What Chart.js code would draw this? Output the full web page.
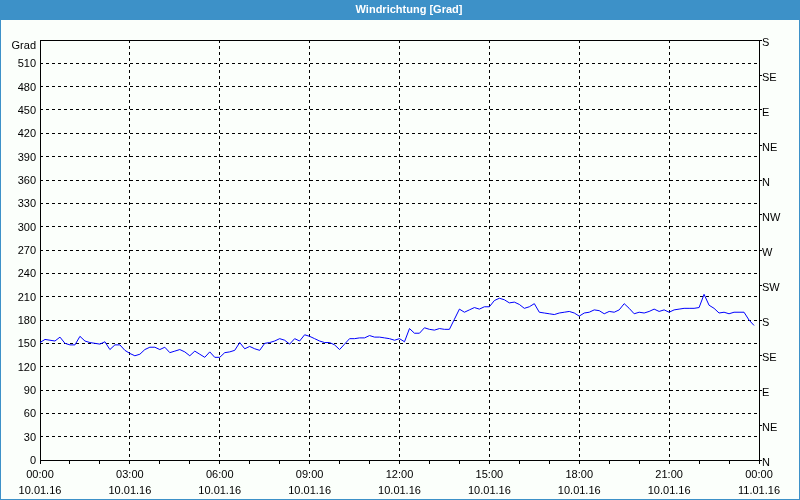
<!DOCTYPE html>
<html>
<head>
<meta charset="utf-8">
<script src="https://cdn.jsdelivr.net/npm/chart.js@4/dist/chart.umd.min.js"></script>
<style>
html,body{margin:0;padding:0;background:#fbfffb;}
#wrap{width:800px;height:500px;}
</style>
</head>
<body>
<div id="wrap"><canvas id="c" width="800" height="500"></canvas></div>
<script>
// ---- data ----
const chartTitle = "Windrichtung [Grad]";
const unitLabel = "Grad";
const dateLabel = "10.01.16";
const nextDateLabel = "11.01.16";
const intervalMinutes = 10;
const windDirection = [
  151,155,154,153,158,150,148,148,159,153,
  151,150,149,152,142,148,148,141,137,134,
  136,142,145,145,142,145,138,140,142,139,
  134,140,136,132,139,132,132,138,139,141,
  151,143,146,143,141,150,151,153,156,154,
  149,156,153,161,159,156,153,151,151,148,
  142,149,156,156,157,157,160,158,158,157,
  156,154,156,152,169,163,163,170,168,167,
  169,168,168,181,194,190,193,196,194,197,
  197,205,208,206,202,203,200,195,197,201,
  190,189,188,187,189,190,191,189,185,189,
  190,193,192,188,191,190,193,201,195,188,
  190,189,191,194,191,193,190,193,194,195,
  195,195,196,213,199,195,189,190,188,190,
  190,190,180,173
];
const leftTicks = [0,30,60,90,120,150,180,210,240,270,300,330,360,390,420,450,480,510];
const compassLabels = ["N","NE","E","SE","S","SW","W","NW","N","NE","E","SE","S"];

const points = windDirection.map((v, i) => ({x: i * intervalMinutes, y: v}));

const FONT = "'Liberation Sans', Arial, sans-serif";

const framePlugin = {
  id: 'frame',
  beforeDraw(chart) {
    const ctx = chart.ctx;
    ctx.save();
    ctx.fillStyle = '#fbfffb';
    ctx.fillRect(0, 0, 800, 500);
    ctx.fillStyle = '#3d91c8';
    ctx.fillRect(0, 0, 800, 20);
    ctx.strokeStyle = '#3d91c8';
    ctx.lineWidth = 1;
    ctx.strokeRect(0.5, 0.5, 799, 499);
    ctx.fillStyle = '#ffffff';
    ctx.font = "bold 11px " + FONT;
    ctx.textAlign = 'center';
    ctx.textBaseline = 'middle';
    ctx.fillText(chartTitle, 409, 10);
    ctx.fillStyle = '#000000';
    ctx.font = "11px " + FONT;
    ctx.textAlign = 'right';
    ctx.fillText(unitLabel, 36, 46);
    ctx.restore();
  },
  beforeDatasetsDraw(chart) {
    const a = chart.chartArea;
    const ctx = chart.ctx;
    ctx.save();
    ctx.strokeStyle = '#000';
    ctx.lineWidth = 1;
    ctx.setLineDash([]);
    ctx.strokeRect(Math.round(a.left) + 0.5, Math.round(a.top) + 0.5,
                   Math.round(a.right) - Math.round(a.left), Math.round(a.bottom) - Math.round(a.top));
    ctx.restore();
  }
};

new Chart(document.getElementById('c'), {
  type: 'line',
  data: {
    datasets: [{
      data: points,
      borderColor: '#0000ff',
      borderWidth: 1,
      pointRadius: 0,
      tension: 0,
      fill: false
    }]
  },
  options: {
    responsive: false,
    animation: false,
    layout: {padding: {top: 40, left: 0, right: 0, bottom: 0}},
    plugins: {legend: {display: false}, tooltip: {enabled: false}, title: {display: false}},
    scales: {
      x: {
        type: 'linear',
        min: 0, max: 1440,
        afterFit(s) { s.height = 40; },
        afterBuildTicks(s) {
          const t = [];
          for (let m = 0; m <= 1440; m += 60) t.push({value: m});
          s.ticks = t;
        },
        ticks: {
          autoSkip: false, maxRotation: 0, minRotation: 0, padding: 3,
          color: '#000',
          font: {family: FONT, size: 11, lineHeight: '16px'},
          callback(v) {
            if (v % 180 !== 0) return '';
            const h = (v / 60) % 24;
            const hh = (h < 10 ? '0' : '') + h + ':00';
            return [hh, v >= 1440 ? nextDateLabel : dateLabel];
          }
        },
        grid: {
          color: c => (c.tick && c.tick.value % 180 === 0 && c.tick.value > 0 && c.tick.value < 1440) ? '#000' : 'rgba(0,0,0,0)',
          tickColor: '#000',
          tickLength: 4,
          lineWidth: 1
        },
        border: {display: false, dash: [3, 3]}
      },
      y: {
        position: 'left',
        min: 0, max: 540,
        afterFit(s) { s.width = 40; },
        afterBuildTicks(s) { s.ticks = leftTicks.map(v => ({value: v})); },
        ticks: {
          color: '#000', padding: 4, labelOffset: 1,
          font: {family: FONT, size: 11}
        },
        grid: {
          drawTicks: false,
          color: c => (c.tick && c.tick.value > 0 && c.tick.value < 540) ? '#000' : 'rgba(0,0,0,0)',
          lineWidth: 1
        },
        border: {display: false, dash: [3, 3]}
      },
      y2: {
        position: 'right',
        min: 0, max: 540,
        afterFit(s) { s.width = 41; },
        afterBuildTicks(s) {
          const t = [];
          for (let i = 0; i < compassLabels.length; i++) t.push({value: i * 45});
          s.ticks = t;
        },
        ticks: {
          color: '#000', padding: 0, labelOffset: 3,
          font: {family: FONT, size: 11},
          callback(v) { return compassLabels[Math.round(v / 45)]; }
        },
        grid: {
          drawOnChartArea: false,
          drawTicks: true,
          tickLength: 3,
          tickColor: '#000',
          color: '#000'
        },
        border: {display: false}
      }
    }
  },
  plugins: [framePlugin]
});
</script>
</body>
</html>
